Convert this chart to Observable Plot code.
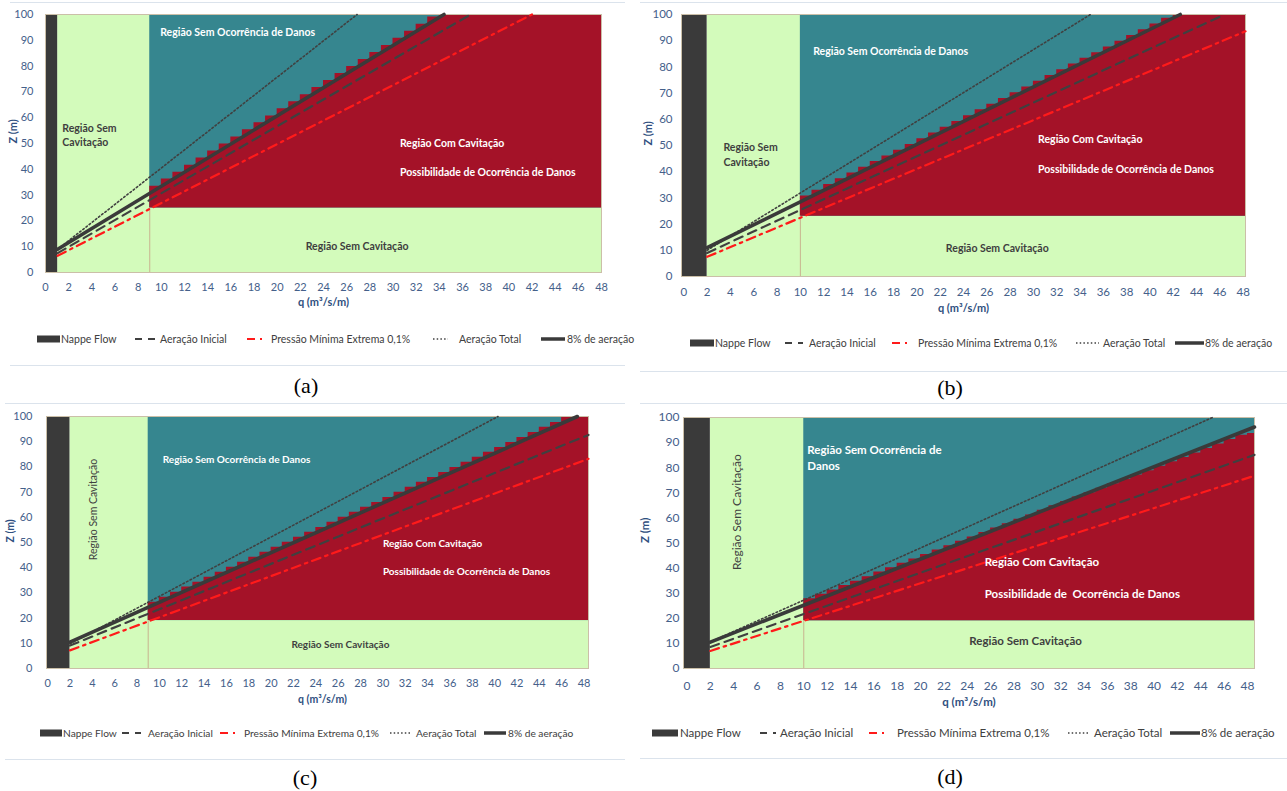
<!DOCTYPE html>
<html><head><meta charset="utf-8">
<script src="https://cdn.jsdelivr.net/npm/d3@7"></script>
<script src="https://cdn.jsdelivr.net/npm/@observablehq/plot@0.6"></script>
<style>
body{margin:0;background:#fff;}
#fig{position:relative;width:1287px;height:791px;overflow:hidden;font-family:Lato,"Open Sans",sans-serif;background:#fff;}
.panel{position:absolute;}
.leg{position:absolute;white-space:nowrap;overflow:hidden;color:#404040;}
.leg .it{position:absolute;top:0;}
.sep{position:absolute;height:1px;background:#dbe3ec;}
.cap{position:absolute;font-family:"Liberation Serif","Times New Roman",serif;font-size:22px;color:#000;transform:translate(-50%,-50%);}
</style></head><body><div id="fig"></div>
<script>
// ---------- shared ticks / labels ----------
const qTicks = [0,2,4,6,8,10,12,14,16,18,20,22,24,26,28,30,32,34,36,38,40,42,44,46,48];
const zTicks = [0,10,20,30,40,50,60,70,80,90,100];
const legendLabels = ["Nappe Flow","Aeração Inicial","Pressão Mínima Extrema 0,1%","Aeração Total","8% de aeração"];
const regionLabels = ["Região Sem Ocorrência de Danos","Região Sem","Cavitação","Região Com Cavitação","Possibilidade de Ocorrência de Danos","Região Sem Cavitação"];

// ---------- panel (a) ----------
const zones_a = [1.05, 9, 25];           // nappe end, limit q, red base Z
const stairQ_a = [9,10,11,12,13,14,15,16,17,18,19,20,21,22,23,24,25,26,27,28,29,30,31,32,33,34,35,36,37,38,39,40,41,42,43,44,45,46,47,48];
const stairZ_a = [30.7,33.4,36.2,38.9,41.6,44.4,47.1,49.8,52.5,55.3,58.0,60.7,63.5,66.2,68.9,71.7,74.4,77.1,79.8,82.6,85.3,88.0,90.8,93.5,96.2,99.0,100,100,100,100,100,100,100,100,100,100,100,100,100,100];
const aer8_a = [[1.05,9],[34.4,100]];
const total_a = [[1.05,9],[26.9,100]];
const inicial_a = [[1.05,7.5],[36.7,100]];
const pressao_a = [[1.05,6.5],[42,100]];

// ---------- panel (b) ----------
const zones_b = [2, 10, 23];
const stairQ_b = [10,11,12,13,14,15,16,17,18,19,20,21,22,23,24,25,26,27,28,29,30,31,32,33,34,35,36,37,38,39,40,41,42,43,44,45,46,47,48,48.2];
const stairZ_b = [28.5,30.7,32.9,35.1,37.3,39.5,41.7,43.9,46.0,48.2,50.4,52.6,54.8,57.0,59.2,61.4,63.6,65.7,67.9,70.1,72.3,74.5,76.7,78.9,81.1,83.3,85.4,87.6,89.8,92.0,94.2,96.4,98.6,100,100,100,100,100,100,100];
const aer8_b = [[2,11],[42.6,100]];
const total_b = [[2,10],[34.9,100]];
const inicial_b = [[2,9],[46.4,100]];
const pressao_b = [[2,7.5],[48.2,93.6]];

// ---------- panel (c) ----------
const zones_c = [2, 9, 19];
const stairQ_c = [9,10,11,12,13,14,15,16,17,18,19,20,21,22,23,24,25,26,27,28,29,30,31,32,33,34,35,36,37,38,39,40,41,42,43,44,45,46,47,48,48.4];
const stairZ_c = [24.4,26.3,28.3,30.3,32.3,34.2,36.2,38.2,40.2,42.2,44.1,46.1,48.1,50.1,52.1,54.1,56.0,58.0,60.0,62.0,64.0,65.9,67.9,69.9,71.9,73.9,75.8,77.8,79.8,81.8,83.8,85.8,87.7,89.7,91.7,93.7,95.7,97.6,99.6,100,100];
const aer8_c = [[2,10.5],[47.4,100]];
const total_c = [[2,9.8],[40.3,100]];
const inicial_c = [[2,9.1],[48.4,92.7]];
const pressao_c = [[2,7.2],[48.4,83.2]];

// ---------- panel (d) ----------
const zones_d = [2, 10, 19];
const stairQ_d = [10,11,12,13,14,15,16,17,18,19,20,21,22,23,24,25,26,27,28,29,30,31,32,33,34,35,36,37,38,39,40,41,42,43,44,45,46,47,48,48.6];
const stairZ_d = [25.2,27.8,29.6,31.3,33.1,34.8,36.6,38.4,40.1,41.9,43.6,45.4,47.2,48.9,50.7,52.4,54.2,56.0,57.7,59.5,61.2,63.0,64.8,66.5,68.3,70.0,71.8,73.6,75.3,77.1,78.8,80.6,82.4,84.1,85.9,87.6,89.4,91.2,92.9,93.6];
const aer8_d = [[2,10.5],[48.6,96.2]];
const total_d = [[2,10.6],[45,100]];
const inicial_d = [[2,8.6],[48.6,85.1]];
const pressao_d = [[2,7],[48.6,76.8]];

// ---------- styles ----------
const GREEN = "#d3fbbb", TEAL = "#36868f", RED = "#a41228", NAPPE = "#3a3a3a";
const TICK = "#44608a", TITLE = "#2f4f80", DARKTXT = "#3f3f3f";

const fig = document.getElementById("fig");

function toPts(arr){ return arr.map(([q,z]) => ({q, z})); }

function drawPanel(p) {
  const [nappe, lim, base] = p.zones;
  const x0 = p.xDom[0], x1 = p.xDom[1];
  const stair = p.stairQ.slice(0, Math.min(p.stairQ.length, p.stairZ.length)).map((q,i) => ({q, z: p.stairZ[i]}));
  const notes = p.notes.map(n => ({q: n[0], z: n[1], t: n[2]}));
  const marks = [
    Plot.rect([{a: nappe, b: x1}], {x1: "a", x2: "b", y1: 0, y2: 100, fill: GREEN}),
    Plot.rect([{a: lim, b: x1}], {x1: "a", x2: "b", y1: base, y2: 100, fill: TEAL}),
    Plot.areaY(stair, {x: "q", y1: base, y2: "z", curve: "step-before", fill: RED}),
    Plot.ruleX([lim], {y1: 0, y2: base, stroke: "#c9b38f", strokeWidth: 1}),
    Plot.rect([{a: x0, b: nappe}], {x1: "a", x2: "b", y1: 0, y2: 100, fill: NAPPE}),
    Plot.frame({stroke: "#cbbfa8", strokeWidth: 1}),
    Plot.line(toPts(p.total), {x: "q", y: "z", stroke: "#404040", strokeWidth: 1.6, strokeDasharray: "1.6,2.4"}),
    Plot.line(toPts(p.inicial), {x: "q", y: "z", stroke: "#404040", strokeWidth: 2.2, strokeDasharray: "9,6"}),
    Plot.line(toPts(p.pressao), {x: "q", y: "z", stroke: "#ff1a1a", strokeWidth: 2.2, strokeDasharray: "9,5,2.5,5"}),
    Plot.line(toPts(p.aer8), {x: "q", y: "z", stroke: "#3a3a3a", strokeWidth: 3.6}),
    Plot.text(notes.filter((d,i) => p.noteFill[i] === "w"), {x: "q", y: "z", text: "t", fill: "#ffffff", fontWeight: "bold", fontSize: p.noteSize, textAnchor: "start"}),
    Plot.text(notes.filter((d,i) => p.noteFill[i] === "d"), {x: "q", y: "z", text: "t", fill: DARKTXT, fontWeight: "bold", fontSize: p.noteSize, textAnchor: "start"}),
    Plot.text(notes.filter((d,i) => p.noteFill[i] === "m"), {x: "q", y: "z", text: "t", fill: DARKTXT, fontWeight: "bold", fontSize: p.noteSize, textAnchor: "middle"}),
    Plot.text(notes.filter((d,i) => p.noteFill[i] === "r"), {x: "q", y: "z", text: "t", fill: DARKTXT, fontWeight: "normal", fontSize: p.rotSize, textAnchor: "middle", rotate: -90}),
    Plot.axisX(qTicks, {tickSize: 0, tickPadding: p.padX, label: null, fontSize: p.tickSize, fill: TICK}),
    Plot.axisY(zTicks, {tickSize: 0, tickPadding: p.padY, label: null, fontSize: p.tickSize, fill: TICK}),
    Plot.text(["Z (m)"], {frameAnchor: "left", dx: p.zDx, rotate: -90, fill: TITLE, fontWeight: "bold", fontSize: p.titleSize}),
    Plot.text(["q (m³/s/m)"], {frameAnchor: "bottom", dy: p.qDy, dx: p.qDx, fill: TITLE, fontWeight: "bold", fontSize: p.titleSize})
  ];
  const svg = Plot.plot({
    width: p.w, height: p.h,
    marginLeft: p.m[0], marginRight: p.m[1], marginTop: p.m[2], marginBottom: p.m[3],
    x: {domain: p.xDom}, y: {domain: [0, 100]},
    style: {fontFamily: "Lato, 'Open Sans', sans-serif", background: "transparent", overflow: "visible"},
    marks
  });
  svg.classList.add("panel");
  svg.style.left = p.left + "px";
  svg.style.top = p.top + "px";
  fig.appendChild(svg);

  // legend
  const leg = document.createElement("div");
  leg.className = "leg";
  leg.style.left = "0px";
  leg.style.top = (p.legY - 8) + "px";
  leg.style.width = p.legClip + "px";
  leg.style.height = "16px";
  leg.style.fontSize = p.legSize + "px";
  const kinds = ["nappe","inicial","pressao","total","aer8"];
  p.legPos.forEach((pos, i) => {
    const [s0, s1, tx] = pos;
    const w = s1 - s0;
    const ns = "http://www.w3.org/2000/svg";
    const sw = document.createElementNS(ns, "svg");
    sw.setAttribute("width", w); sw.setAttribute("height", 16);
    sw.style.position = "absolute"; sw.style.left = s0 + "px"; sw.style.top = "0px";
    let el;
    if (kinds[i] === "nappe") {
      el = document.createElementNS(ns, "rect");
      el.setAttribute("x", 0); el.setAttribute("y", 4.5); el.setAttribute("width", w); el.setAttribute("height", 7); el.setAttribute("fill", NAPPE);
    } else {
      el = document.createElementNS(ns, "line");
      el.setAttribute("x1", 0); el.setAttribute("x2", w); el.setAttribute("y1", 8); el.setAttribute("y2", 8);
      const st = {inicial: ["#404040", 2.2, "7,6"], pressao: ["#ff1a1a", 2.2, "8,5,2,20"], total: ["#404040", 1.3, "1.5,2.2"], aer8: ["#3a3a3a", 3.5, "none"]}[kinds[i]];
      el.setAttribute("stroke", st[0]); el.setAttribute("stroke-width", st[1]);
      if (st[2] !== "none") el.setAttribute("stroke-dasharray", st[2]);
    }
    sw.appendChild(el);
    leg.appendChild(sw);
    const t = document.createElement("div");
    t.className = "it";
    t.style.left = tx + "px";
    t.style.lineHeight = "16px";
    t.textContent = legendLabels[i];
    leg.appendChild(t);
  });
  fig.appendChild(leg);

  // separators + caption
  [[p.topLineY], [p.sepY]].forEach(([y]) => {
    const s = document.createElement("div");
    s.className = "sep";
    s.style.top = y + "px"; s.style.left = p.sepX[0] + "px"; s.style.width = (p.sepX[1] - p.sepX[0]) + "px";
    fig.appendChild(s);
  });
  const c = document.createElement("div");
  c.className = "cap";
  c.style.left = p.cap[0] + "px"; c.style.top = p.cap[1] + "px";
  c.textContent = p.capText;
  fig.appendChild(c);
}

const R = regionLabels;
drawPanel({
  left: 0, top: 0, w: 640, h: 320, m: [45, 39, 14, 48], xDom: [0, 48],
  zones: zones_a, stairQ: stairQ_a, stairZ: stairZ_a,
  aer8: aer8_a, total: total_a, inicial: inicial_a, pressao: pressao_a,
  notes: [[9.9, 93, R[0]], [1.45, 55.8, R[1]], [1.45, 50.4, R[2]], [30.6, 50, R[3]], [30.6, 38.8, R[4]], [26.9, 10.1, R[5]]],
  noteFill: ["w","d","d","w","w","m"], noteSize: 10.5, rotSize: 10.5,
  tickSize: 11, padX: 11, padY: 12, titleSize: 11, zDx: -32, qDy: 33, qDx: 0,
  legY: 339, legSize: 10.5, legClip: 640,
  legPos: [[37,60,61],[135,155,160],[247,262,271],[433,448,459],[541,565,567]],
  topLineY: 2, sepY: 365, sepX: [10, 625], cap: [306, 386], capText: "(a)"
});
drawPanel({
  left: 640, top: 0, w: 647, h: 320, m: [41, 42, 14, 44], xDom: [-0.2, 48.2],
  zones: zones_b, stairQ: stairQ_b, stairZ: stairZ_b,
  aer8: aer8_b, total: total_b, inicial: inicial_b, pressao: pressao_b,
  notes: [[11.1, 86, R[0]], [3.4, 49.2, R[1]], [3.4, 43.5, R[2]], [30.4, 52.3, R[3]], [30.4, 40.8, R[4]], [26.9, 10.7, R[5]]],
  noteFill: ["w","d","d","w","w","m"], noteSize: 10.5, rotSize: 10.5,
  tickSize: 11.5, padX: 11, padY: 9, titleSize: 11, zDx: -33, qDy: 35, qDx: 0,
  legY: 343, legSize: 10.5, legClip: 1287,
  legPos: [[690,714,715],[785,803,809],[892,915,918],[1076,1099,1103],[1175,1204,1205]],
  topLineY: 2, sepY: 371, sepX: [640, 1287], cap: [950, 388], capText: "(b)"
});
drawPanel({
  left: 0, top: 400, w: 640, h: 320, m: [46, 52, 16, 52], xDom: [-0.1, 48.4],
  zones: zones_c, stairQ: stairQ_c, stairZ: stairZ_c,
  aer8: aer8_c, total: total_c, inicial: inicial_c, pressao: pressao_c,
  notes: [[10.3, 82.9, R[0]], [4.08, 63.1, R[5]], [30.0, 49.6, R[3]], [30.0, 38.5, R[4]], [26.2, 9.5, R[5]]],
  noteFill: ["w","r","w","w","m"], noteSize: 10, rotSize: 10.5,
  tickSize: 11, padX: 11, padY: 14, titleSize: 10.5, zDx: -36, qDy: 34, qDx: 5,
  legY: 733, legSize: 10.2, legClip: 625,
  legPos: [[40,62,63],[122,141,148],[220,237,244],[390,412,416],[484,506,508]],
  topLineY: 403, sepY: 759, sepX: [5, 625], cap: [305, 778], capText: "(c)"
});
drawPanel({
  left: 640, top: 400, w: 647, h: 320, m: [43, 33, 17, 52], xDom: [-0.3, 48.6],
  zones: zones_d, stairQ: stairQ_d, stairZ: stairZ_d,
  aer8: aer8_d, total: total_d, inicial: inicial_d, pressao: pressao_d,
  notes: [[10.3, 86.9, "Região Sem Ocorrência de"], [10.3, 80.5, "Danos"], [4.3, 62.3, R[5]], [25.5, 42.2, R[3]], [25.5, 29.5, "Possibilidade de\u00a0 Ocorrência de Danos"], [29.0, 10.8, R[5]]],
  noteFill: ["w","w","r","w","w","m"], noteSize: 11.5, rotSize: 12,
  tickSize: 12, padX: 13, padY: 4, titleSize: 11.5, zDx: -38, qDy: 37, qDx: 0,
  legY: 733, legSize: 11.5, legClip: 1287,
  legPos: [[652,678,680],[760,776,780],[869,886,897],[1068,1090,1094],[1170,1200,1201]],
  topLineY: 403, sepY: 758, sepX: [640, 1287], cap: [950, 777], capText: "(d)"
});
</script>
</body></html>
